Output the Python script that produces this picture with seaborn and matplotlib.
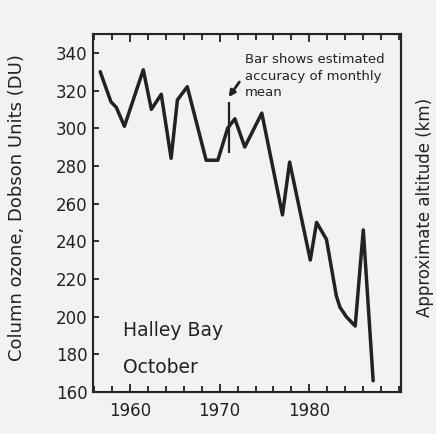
import matplotlib
matplotlib.use("Agg")
import matplotlib.pyplot as plt
import seaborn as sns
import pandas as pd
from matplotlib.ticker import MultipleLocator

# October mean column ozone at Halley Bay
years = [1956.7, 1957.9, 1958.5, 1959.4, 1961.5, 1962.4, 1963.5, 1964.6, 1965.3,
         1966.4, 1968.5, 1969.8, 1970.9, 1971.7, 1972.8, 1974.7, 1977.0, 1977.8,
         1980.1, 1980.8, 1981.9, 1983.0, 1983.4, 1984.1, 1984.9, 1985.1, 1986.0,
         1987.1]
ozone = [330, 314, 311, 301, 331, 310, 318, 284, 315,
         322, 283, 283, 300, 305, 290, 308, 254, 282,
         230, 250, 241, 211, 205, 200, 196, 195, 246,
         166]

# accuracy bar
bar_year = [1971.0]
bar_low = [287]
bar_high = [314]

yticks = [160, 180, 200, 220, 240, 260, 280, 300, 320, 340]
xticks = [1960, 1970, 1980]

bg = "#f1f2f4"
ink = "#222222"

sns.set_style("ticks")
plt.rcParams['font.family'] = ['DejaVu Sans']

df = pd.DataFrame({"year": years, "ozone": ozone})

fig = plt.figure(figsize=(4.36, 4.34), dpi=100, facecolor=bg)
ax = fig.add_axes([0.2133, 0.0968, 0.7064, 0.8249], facecolor=bg)

sns.lineplot(data=df, x="year", y="ozone", ax=ax, color=ink, lw=2.5,
             solid_joinstyle="round", solid_capstyle="round")
ax.vlines(bar_year, bar_low, bar_high, color=ink, lw=1.6)

ax.set_xlim(1955.9, 1990.2)
ax.set_ylim(160, 350)
ax.set_xticks(xticks)
ax.set_yticks(yticks)
ax.xaxis.set_minor_locator(MultipleLocator(2))

for s in ax.spines.values():
    s.set_visible(True)
    s.set_linewidth(1.5)
    s.set_color(ink)

ax.tick_params(which="both", direction="in", top=True, right=True,
               color=ink, width=1.3, labelcolor=ink)
ax.tick_params(axis="y", which="major", length=4.5, labelsize=12, pad=4)
ax.tick_params(axis="x", which="major", length=6, labelsize=12, pad=7)
ax.tick_params(axis="x", which="minor", length=4)

ax.set_xlabel("")
ax.set_ylabel("Column ozone, Dobson Units (DU)", fontsize=13, color=ink)
ax.yaxis.set_label_coords(-0.2175, 0.514)

ax2 = ax.twinx()
ax2.set_ylim(ax.get_ylim())
ax2.set_yticks([])
ax2.set_ylabel("Approximate altitude (km)", fontsize=12, color=ink)
ax2.yaxis.set_label_coords(1.0487, 0.515)
ax2.spines["right"].set_linewidth(1.5)

ax.text(1959.2, 189.7, "Halley Bay", fontsize=13.5, color=ink, va="baseline")
ax.text(1959.2, 170.0, "October", fontsize=13.5, color=ink, va="baseline")

ax.text(1972.8, 317.0, "Bar shows estimated\naccuracy of monthly\nmean",
        fontsize=9.5, color=ink, va="baseline", linespacing=1.35)
ax.annotate("", xy=(1971.0, 316.5), xytext=(1972.2, 324.5),
            arrowprops=dict(arrowstyle="-|>", color=ink, lw=2.0,
                            mutation_scale=9, shrinkA=0, shrinkB=0))

fig.savefig("out.png", dpi=100, facecolor=bg)
